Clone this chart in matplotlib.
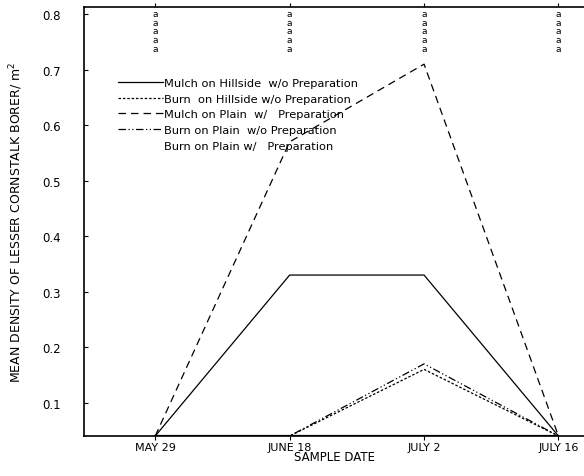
import numpy as np
import matplotlib
matplotlib.use("Agg")
import matplotlib.pyplot as plt

# sample dates and values
dates = ["MAY 29", "JUNE 18", "JULY 2", "JULY 16"]
base = 0.04  # lines sit on the bottom axis
mulch_hill = [base, 0.33, 0.33, base]
burn_hill = [base, base, 0.16, base]
mulch_plain = [base, 0.57, 0.71, base]
burn_plain_wo = [base, base, 0.17, base]
burn_plain_w = [base, base, base, base]

ytick_vals = [0.1, 0.2, 0.3, 0.4, 0.5, 0.6, 0.7, 0.8]
ytick_labels = ["0.1", "0.2", "0.3", "0.4", "0.5", "0.6", "0.7", "0.8"]
letters = ["a\na\na\na\na"] * 4

plt.rcParams['font.family'] = ['DejaVu Sans']

fig = plt.figure(figsize=(5.84, 4.77), dpi=100)
ax = fig.add_axes([84 / 584, 40 / 477, 500 / 584, 429 / 477])

x = np.arange(len(dates))
ax.plot(x, mulch_hill, color="black", lw=0.9, ls="-", label="Mulch on Hillside  w/o Preparation")
ax.plot(x, burn_hill, color="black", lw=0.9, ls=(0, (2, 1.5)), label="Burn  on Hillside w/o Preparation")
ax.plot(x, mulch_plain, color="black", lw=0.9, ls=(0, (6, 4)), label="Mulch on Plain  w/   Preparation")
ax.plot(x, burn_plain_wo, color="black", lw=0.9, ls=(0, (6, 2, 1, 2, 1, 2)), label="Burn on Plain  w/o Preparation")
ax.plot(x, burn_plain_w, color="black", lw=1.6, ls="-", label="Burn on Plain w/   Preparation")

for xi, s in zip(x, letters):
    ax.text(xi, 0.995, s, transform=ax.get_xaxis_transform(), ha="center", va="top",
            fontsize=6.5, linespacing=0.95)

ax.set_xlim(-0.53, 3.19)
ax.set_ylim(base, 0.813)
ax.set_xticks(x)
ax.set_xticklabels(dates, fontsize=8)
ax.set_yticks(ytick_vals)
ax.set_yticklabels(ytick_labels, fontsize=8.5)
ax.tick_params(axis="y", direction="in", length=3, pad=17)
ax.tick_params(axis="x", direction="out", length=3, top=True, pad=1)
ax.spines["right"].set_visible(False)
for s in ["left", "top", "bottom"]:
    ax.spines[s].set_linewidth(1.2)

ax.set_xlabel("SAMPLE DATE", fontsize=8.5, labelpad=-1)
ax.set_ylabel("MEAN DENSITY OF LESSER CORNSTALK BORER/ m$^2$", fontsize=9, labelpad=12)

leg = ax.legend(loc="upper left", bbox_to_anchor=(0.058, 0.845), frameon=False,
                fontsize=8.2, handlelength=4.0, handletextpad=0.1, labelspacing=0.5,
                borderaxespad=0)
leg.legend_handles[4].set_visible(False)

fig.savefig("out.png", dpi=100)
